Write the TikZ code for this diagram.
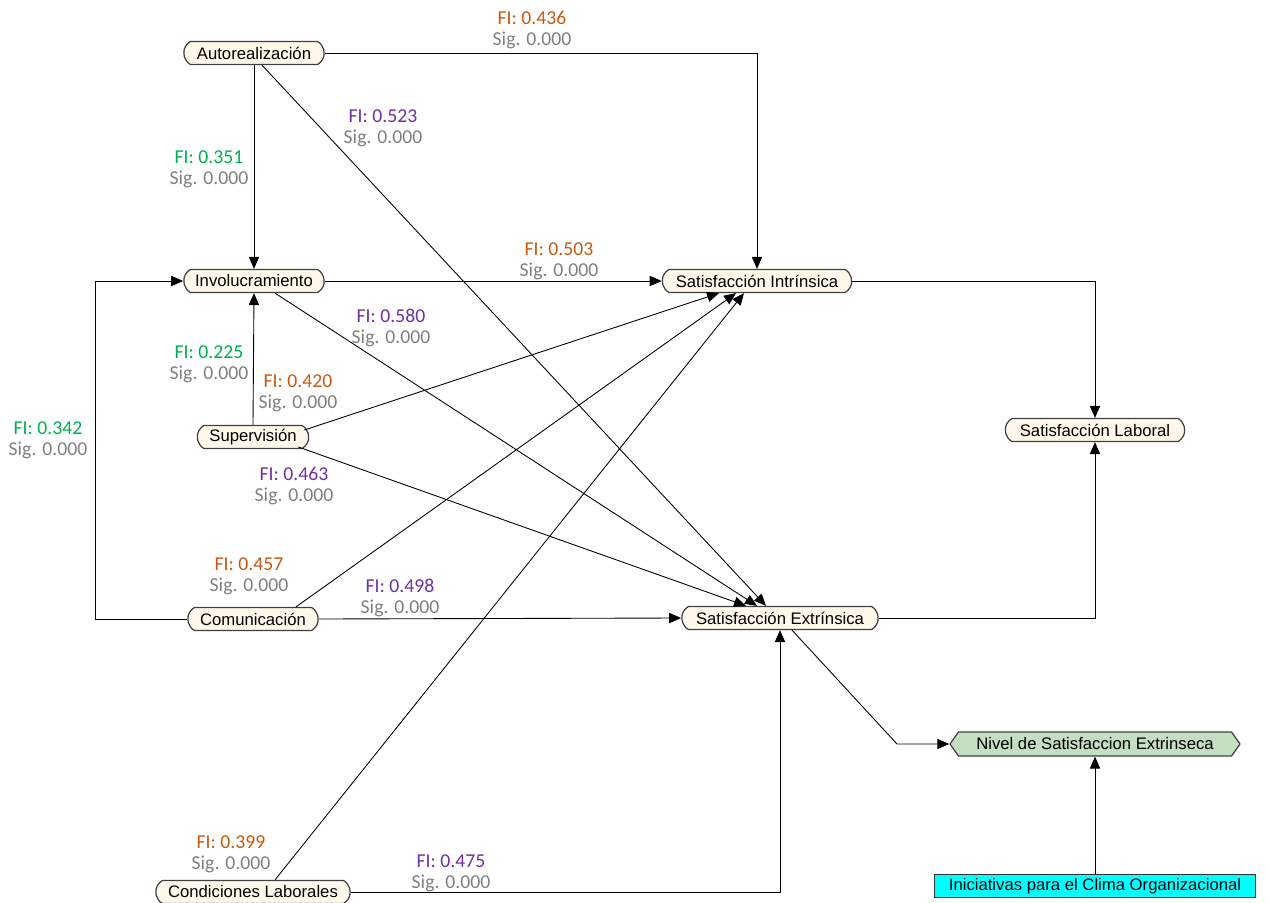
\documentclass[tikz,border=0pt]{standalone}
\usepackage{fontspec}
\setmainfont{Liberation Sans}
\newfontfamily\calibri{Carlito}
\usetikzlibrary{arrows.meta, shapes.misc, shapes.symbols, calc}
\definecolor{fiOrange}{RGB}{197, 90, 17}
\definecolor{fiGreen}{RGB}{0, 176, 80}
\definecolor{fiPurple}{RGB}{112, 48, 160}
\definecolor{sigGray}{RGB}{127, 127, 127}
\definecolor{boxCream}{RGB}{255, 248, 234}
\definecolor{boxSage}{RGB}{196, 222, 196}
\definecolor{boxCyan}{RGB}{0, 255, 255}

\begin{document}
\begin{tikzpicture}[x=0.02cm, y=-0.02cm,
    factor/.style={rounded rectangle, rounded rectangle arc length=120, draw=black!75, line width=0.7pt,
      fill=boxCream, minimum height=0.46cm, inner sep=1pt, font=\fontsize{9.5}{11}\selectfont},
    fiLabel/.style={align=center, inner sep=0pt, text=sigGray, font=\calibri\fontsize{11.2}{11.9}\selectfont},
    link/.style={-{Triangle[length=6.8pt, width=5.8pt]}, line width=0.5pt}]
  \useasboundingbox (0,0) rectangle (1269,903);
  % factors
  \node[factor, minimum width=2.88cm] (auto) at (254,53) {Autorealización};
  \node[factor, minimum width=2.88cm] (inv) at (254,281) {Involucramiento};
  \node[factor, minimum width=2.30cm] (sup) at (253,437) {Supervisión};
  \node[factor, minimum width=2.68cm] (com) at (253,619) {Comunicación};
  \node[factor, minimum width=3.96cm] (cond) at (253,892) {Condiciones Laborales};
  \node[factor, minimum width=3.86cm] (satInt) at (757,281) {Satisfacción Intrínsica};
  \node[factor, minimum width=4.00cm] (satExt) at (780,618) {Satisfacción Extrínsica};
  \node[factor, minimum width=3.66cm] (satLab) at (1095,430) {Satisfacción Laboral};
  \node[signal, signal to=west and east, signal pointer angle=110, draw=black!75, line width=0.7pt,
    fill=boxSage, minimum width=5.8cm, minimum height=0.48cm, inner sep=1pt,
    font=\fontsize{9.5}{11}\selectfont] (nivel) at (1095,744) {Nivel de Satisfaccion Extrinseca};
  \node[rectangle, draw=black!80, line width=0.8pt, fill=boxCyan, minimum width=6.42cm,
    minimum height=0.46cm, inner sep=1pt, font=\fontsize{9.5}{11}\selectfont] (inic) at (1095,886)
    {Iniciativas para el Clima Organizacional};

  % paths
  \draw[link] (auto.east) -| (satInt.north);
  \draw[link] (auto.south) -- (inv.north);
  \draw[link] ($(auto.south)+(8,0)$) -- ($(satExt.north)+(-14,0)$);
  \draw[link] (inv.east) -- (satInt.west);
  \draw[link] ($(inv.south)+(21,0)$) -- ($(satExt.north)+(-23,0)$);
  \draw[link] (sup.north) -- (inv.south);
  \draw[link] ($(sup.east)+(-5,-7)$) -- ($(satInt.south)+(-38,0)$);
  \draw[link] ($(sup.east)+(-11,10)$) -- ($(satExt.north)+(-34,0)$);
  \draw[link] (com.west) -- (95,619) |- (inv.west);
  \draw[link] ($(com.north)+(43,0)$) -- ($(satInt.south)+(-21,0)$);
  \draw[link] (com.east) -- (satExt.west);
  \draw[link] ($(cond.north)+(22,0)$) -- ($(satInt.south)+(-13,0)$);
  \draw[link] (cond.east) -| (satExt.south);
  \draw[link] (satInt.east) -| (satLab.north);
  \draw[link] (satExt.east) -| (satLab.south);
  \draw[link] ($(satExt.south)+(12,0)$) -- (897,744) -- (nivel.west);
  \draw[link] (inic.north) -- (nivel.south);

  % path labels
  \node[fiLabel] (l436) at (532,30) {\textcolor{fiOrange}{FI: 0.436}\\Sig. 0.000};
  \node[fiLabel] (l351) at (209,169) {\textcolor{fiGreen}{FI: 0.351}\\Sig. 0.000};
  \node[fiLabel] (l523) at (383,128) {\textcolor{fiPurple}{FI: 0.523}\\Sig. 0.000};
  \node[fiLabel] (l503) at (559,261) {\textcolor{fiOrange}{FI: 0.503}\\Sig. 0.000};
  \node[fiLabel] (l580) at (391,328) {\textcolor{fiPurple}{FI: 0.580}\\Sig. 0.000};
  \node[fiLabel] (l225) at (209,364) {\textcolor{fiGreen}{FI: 0.225}\\Sig. 0.000};
  \node[fiLabel] (l420) at (298,393) {\textcolor{fiOrange}{FI: 0.420}\\Sig. 0.000};
  \node[fiLabel] (l463) at (294,486) {\textcolor{fiPurple}{FI: 0.463}\\Sig. 0.000};
  \node[fiLabel] (l342) at (48,440) {\textcolor{fiGreen}{FI: 0.342}\\Sig. 0.000};
  \node[fiLabel] (l457) at (249,576) {\textcolor{fiOrange}{FI: 0.457}\\Sig. 0.000};
  \node[fiLabel] (l498) at (400,598) {\textcolor{fiPurple}{FI: 0.498}\\Sig. 0.000};
  \node[fiLabel] (l399) at (231,854) {\textcolor{fiOrange}{FI: 0.399}\\Sig. 0.000};
  \node[fiLabel] (l475) at (451,873) {\textcolor{fiPurple}{FI: 0.475}\\Sig. 0.000};
\end{tikzpicture}
\end{document}
